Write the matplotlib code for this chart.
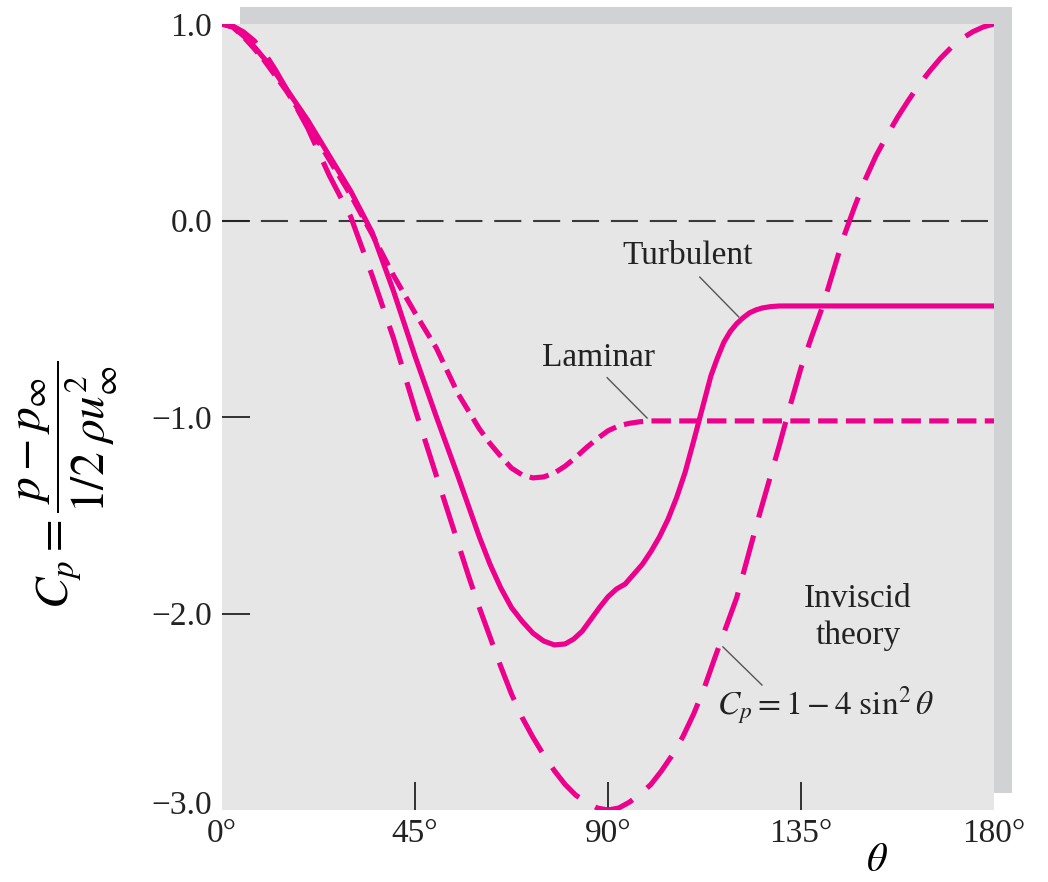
import matplotlib
matplotlib.use("Agg")
import matplotlib.pyplot as plt
import matplotlib.transforms as mtransforms
from matplotlib.patches import Rectangle

# ---- data ----
theta_inv = [0, 2.5, 5, 7.5, 10, 12.5, 15, 17.5, 20, 22.5, 25, 27.5, 30, 32.5, 35, 37.5, 40,
             42.5, 45, 47.5, 50, 52.5, 55, 57.5, 60, 62.5, 65, 67.5, 70, 72.5, 75, 77.5, 80,
             82.5, 85, 87.5, 90, 92.5, 95, 97.5, 100, 102.5, 105, 107.5, 110, 112.5, 115,
             117.5, 120, 122.5, 125, 127.5, 130, 132.5, 135, 137.5, 140, 142.5, 145, 147.5,
             150, 152.5, 155, 157.5, 160, 162.5, 165, 167.5, 170, 172.5, 175, 177.5, 180]
cp_inv = [1.00, 0.99, 0.96, 0.915, 0.85, 0.765, 0.67, 0.57, 0.47, 0.35, 0.23, 0.125, 0.02,
          -0.13, -0.28, -0.44, -0.60, -0.78, -0.96, -1.13, -1.30, -1.47, -1.64, -1.81, -1.97,
          -2.12, -2.27, -2.41, -2.53, -2.63, -2.72, -2.80, -2.87, -2.925, -2.96, -2.99, -3.00,
          -2.99, -2.96, -2.92, -2.87, -2.80, -2.72, -2.625, -2.51, -2.375, -2.22, -2.07,
          -1.92, -1.72, -1.52, -1.33, -1.14, -0.94, -0.75, -0.59, -0.44, -0.26, -0.08, 0.07,
          0.21, 0.33, 0.43, 0.525, 0.61, 0.69, 0.76, 0.825, 0.88, 0.925, 0.96, 0.985, 1.00]

theta_lam = [0, 2.5, 5, 7.5, 10, 15, 20, 25, 30, 35, 40, 45, 50, 55, 60, 62.5, 65, 67.5, 70,
             72.5, 75, 77.5, 80, 82.5, 85, 87.5, 90, 92.5, 95, 97.5, 100, 180]
cp_lam = [1.00, 0.985, 0.935, 0.875, 0.81, 0.66, 0.49, 0.31, 0.13, -0.07, -0.28, -0.47,
          -0.65, -0.88, -1.06, -1.135, -1.20, -1.26, -1.295, -1.31, -1.305, -1.285, -1.25,
          -1.205, -1.155, -1.11, -1.07, -1.045, -1.032, -1.024, -1.02, -1.02]

theta_turb = [0, 2.5, 5, 7.5, 10, 12.5, 15, 20, 25, 30, 35, 40, 45, 50, 55, 60, 62.5, 65,
              67.5, 70, 72.5, 75, 77.5, 80, 82, 84, 86, 88, 90, 92, 94, 96, 98, 100, 102, 104,
              106, 108, 110, 112, 114, 115.5, 117, 118.5, 120, 121.5, 123, 124.5, 126, 128,
              130, 180]
cp_turb = [1.00, 0.985, 0.94, 0.885, 0.82, 0.75, 0.67, 0.51, 0.33, 0.15, -0.06, -0.36, -0.69,
           -1.00, -1.30, -1.61, -1.75, -1.87, -1.97, -2.04, -2.10, -2.14, -2.16, -2.155,
           -2.13, -2.09, -2.03, -1.97, -1.915, -1.875, -1.85, -1.80, -1.75, -1.685, -1.61,
           -1.52, -1.41, -1.28, -1.12, -0.955, -0.79, -0.70, -0.62, -0.565, -0.525, -0.495,
           -0.47, -0.455, -0.445, -0.438, -0.435, -0.435]

xticks = [0, 45, 90, 135, 180]
xticklabels = ["0°", "45°", "90°", "135°", "180°"]
yticks = [1.0, 0.0, -1.0, -2.0, -3.0]
yticklabels = ["1.0", "0.0", "\u22121.0", "\u22122.0", "\u22123.0"]

# ---- style ----
MAG = "#EC008C"
BG = "#E6E6E6"
SHADOW = "#D1D2D4"
plt.rcParams["lines.scale_dashes"] = False
plt.rcParams["mathtext.fontset"] = "stix"
serif = ["Liberation Serif", "DejaVu Serif"]

W, H = 1048, 882
fig = plt.figure(figsize=(W / 100, H / 100), dpi=100)
ax_l, ax_r, ax_t, ax_b = 222, 994, 24, 810
ax = fig.add_axes([ax_l / W, 1 - ax_b / H, (ax_r - ax_l) / W, (ax_b - ax_t) / H])
ax.set_facecolor(BG)

# drop shadow
off = 17.5
fig.add_artist(Rectangle(((ax_l + off) / W, 1 - (ax_b - off) / H),
                         (ax_r - ax_l) / W, (ax_b - ax_t) / H,
                         transform=fig.transFigure, facecolor=SHADOW, edgecolor="none",
                         zorder=-1))

for s in ax.spines.values():
    s.set_visible(False)

ax.set_xlim(0, 180)
ax.set_ylim(-3, 1)

# zero line
ax.axhline(0, color="#3a3a3a", lw=1.5, dashes=(19.5, 8.5), zorder=1)

lw = 3.7
ax.plot(theta_turb, cp_turb, color=MAG, lw=lw, solid_capstyle="butt",
        solid_joinstyle="round", zorder=3)
ax.plot(theta_lam, cp_lam, color=MAG, lw=lw, dashes=(14, 6), zorder=3)
ax.plot(theta_inv, cp_inv, color=MAG, lw=lw, dashes=(29, 13.5), zorder=3)

# ticks
ax.set_xticks(xticks)
ax.set_xticklabels(xticklabels, fontfamily=serif, fontsize=24)
ax.set_yticks(yticks)
ax.set_yticklabels(yticklabels, fontfamily=serif, fontsize=24)
ax.tick_params(axis="both", direction="in", length=20, width=1.3, color="#222222",
               labelcolor="#222222")
ax.tick_params(axis="x", pad=6)
ax.tick_params(axis="y", pad=7)
xt = ax.xaxis.get_major_ticks()
xt[0].tick1line.set_visible(False)
xt[-1].tick1line.set_visible(False)
yt = ax.yaxis.get_major_ticks()
yt[0].tick1line.set_visible(False)
yt[-1].tick1line.set_visible(False)
# the bottom y label sits slightly higher in the reference
lab = yt[-1].label1
lab.set_transform(lab.get_transform() +
                  mtransforms.ScaledTranslation(0, 8 / 100, fig.dpi_scale_trans))

# annotations
tc = "#222222"
lc = "#555555"
ax.text(108.5, -0.221, "Turbulent", ha="center", va="baseline", fontfamily=serif,
        fontsize=24, color=tc)
ax.plot([111.4, 120.5], [-0.288, -0.491], color=lc, lw=1.0, zorder=2)
ax.text(87.9, -0.74, "Laminar", ha="center", va="baseline", fontfamily=serif,
        fontsize=24, color=tc)
ax.plot([89.8, 99.1], [-0.80, -1.005], color=lc, lw=1.0, zorder=2)
ax.text(148.3, -1.967, "Inviscid", ha="center", va="baseline", fontfamily=serif,
        fontsize=24, color=tc)
ax.text(148.3, -2.155, "theory", ha="center", va="baseline", fontfamily=serif,
        fontsize=24, color=tc)
ax.text(140.8, -2.517, r"$C_p = 1 - 4\ \sin^2\theta$", ha="center", va="baseline",
        fontsize=24, color=tc)
ax.plot([116.8, 125.9], [-2.17, -2.364], color=lc, lw=1.0, zorder=2)

# axis labels
fig.text(68 / W, 1 - 485 / H, r"$C_p = \dfrac{p - p_\infty}{1/2\;\rho u_\infty^2}$",
         rotation=90, ha="center", va="center", fontsize=34, color="black")
fig.text(877 / W, 1 - 860 / H, r"$\theta$", ha="center", va="center", fontsize=29,
         color="black")

fig.savefig("out.png", dpi=100)
